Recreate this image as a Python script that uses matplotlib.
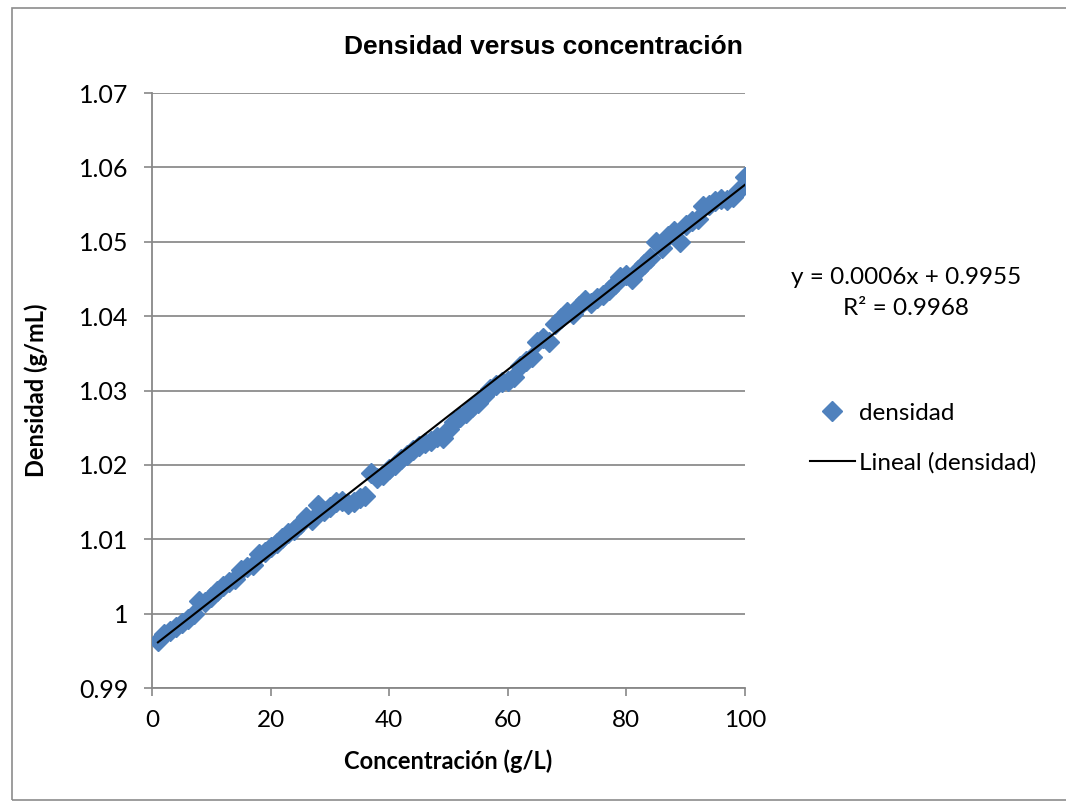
import numpy as np
import matplotlib.pyplot as plt
from matplotlib.patches import Rectangle

plt.rcParams['font.family'] = ['Lato', 'DejaVu Sans']

# concentración (g/L) y densidad (g/mL)
conc = np.arange(1, 101)
dens = [0.9963, 0.9973, 0.9977, 0.9982, 0.9987, 0.9993, 0.9999, 1.0017, 1.0016, 1.0022,
        1.0030, 1.0037, 1.0042, 1.0047, 1.0058, 1.0063, 1.0065, 1.0080, 1.0083, 1.0090,
        1.0095, 1.0102, 1.0108, 1.0112, 1.0120, 1.0130, 1.0126, 1.0146, 1.0138, 1.0143,
        1.0150, 1.0152, 1.0148, 1.0150, 1.0155, 1.0158, 1.0189, 1.0182, 1.0186, 1.0195,
        1.0200, 1.0208, 1.0213, 1.0220, 1.0225, 1.0230, 1.0232, 1.0237, 1.0236, 1.0248,
        1.0258, 1.0265, 1.0270, 1.0278, 1.0283, 1.0293, 1.0302, 1.0308, 1.0312, 1.0313,
        1.0318, 1.0333, 1.0340, 1.0345, 1.0365, 1.0370, 1.0365, 1.0390, 1.0398, 1.0405,
        1.0403, 1.0413, 1.0422, 1.0418, 1.0425, 1.0428, 1.0435, 1.0443, 1.0452, 1.0455,
        1.0450, 1.0462, 1.0470, 1.0478, 1.0500, 1.0492, 1.0508, 1.0515, 1.0500, 1.0522,
        1.0528, 1.0530, 1.0548, 1.0550, 1.0555, 1.0558, 1.0556, 1.0560, 1.0570, 1.0587]
dens = np.array(dens)

xticks = [0, 20, 40, 60, 80, 100]
yticks = [0.99, 1.0, 1.01, 1.02, 1.03, 1.04, 1.05, 1.06, 1.07]
ylabels = ['0.99', '1', '1.01', '1.02', '1.03', '1.04', '1.05', '1.06', '1.07']

m, b = np.polyfit(conc, dens, 1)

fig = plt.figure(figsize=(10.66, 8.05), dpi=100)
ax = fig.add_axes([152/1066, 1-688/805, (745-152)/1066, (688-93)/805])

ax.plot(conc, dens, linestyle='none', marker='D', markersize=10, color='#4F81BD',
        label='densidad', zorder=3)
xl = np.array([conc[0], conc[-1]])
ax.plot(xl, m*xl + b, color='black', lw=1.5, label='Lineal (densidad)', zorder=4)

ax.set_xlim(0, 100)
ax.set_ylim(0.99, 1.07)
ax.set_xticks(xticks)
ax.set_yticks(yticks)
ax.set_yticklabels(ylabels)
ax.tick_params(length=6, color='#888888', width=1.2)
ax.tick_params(axis='y', labelsize=18, pad=11)
ax.tick_params(axis='x', labelsize=17.5, pad=10)
ax.grid(axis='y', color='#8c8c8c', lw=1.3)
ax.set_axisbelow(True)
for s in ['top', 'right']:
    ax.spines[s].set_visible(False)
for s in ['left', 'bottom']:
    ax.spines[s].set_color('#888888')
    ax.spines[s].set_linewidth(1.3)

fig.text(543/1066, 1-47/805, 'Densidad versus concentración', fontsize=19,
         fontweight='bold', family='Liberation Sans', ha='center', va='center')
ax.set_xlabel('Concentración (g/L)', fontsize=17, fontweight='bold', labelpad=13)
ax.set_ylabel('Densidad (g/mL)', fontsize=17, fontweight='bold', labelpad=22)

fig.text(906/1066, 1-278/805, 'y = 0.0006x + 0.9955', fontsize=17.5, ha='center', va='center')
fig.text(906/1066, 1-308/805, 'R² = 0.9968', fontsize=17.5, ha='center', va='center')

leg = ax.legend(loc='center left', bbox_to_anchor=(810/1066, 1-438/805),
                bbox_transform=fig.transFigure, frameon=False, borderpad=0,
                borderaxespad=0, fontsize=17.5, handlelength=1.85,
                labelspacing=1.15, handletextpad=0.15)

fig.add_artist(Rectangle((12/1066, 1-800/805), 1.2, 792/805, transform=fig.transFigure,
                         fill=False, edgecolor='#8c8c8c', lw=1.2))

fig.savefig('out.png', dpi=100)
